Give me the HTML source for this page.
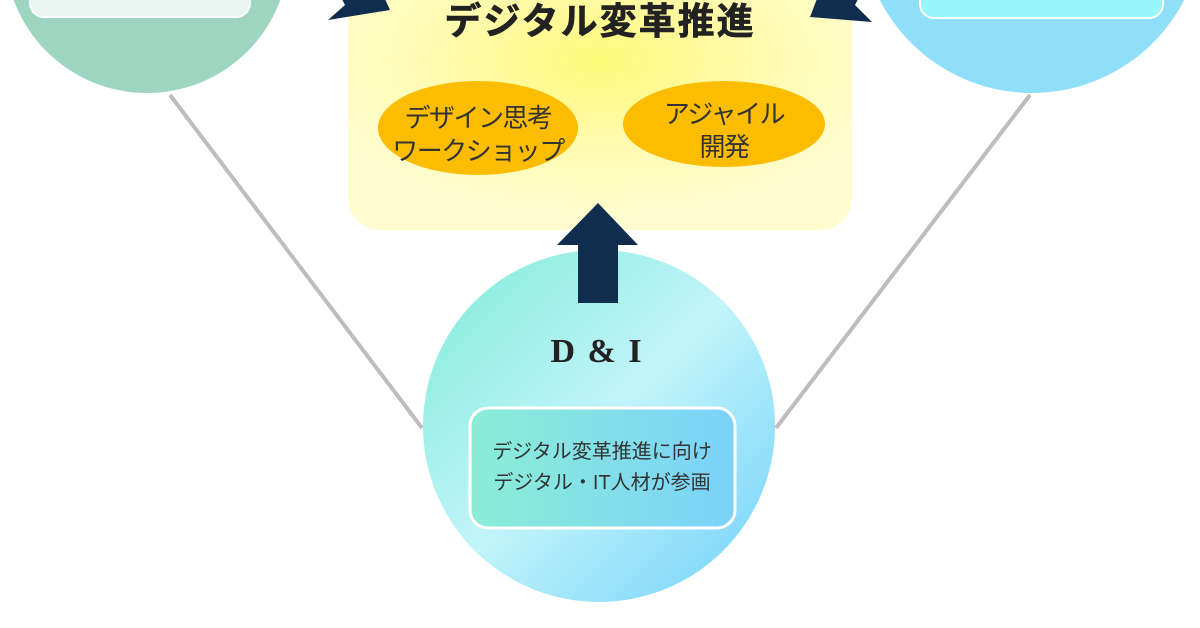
<!DOCTYPE html>
<html><head><meta charset="utf-8"><style>
body{margin:0;width:1200px;height:628px;overflow:hidden;background:#fff;font-family:"Liberation Sans","Noto Sans CJK JP",sans-serif}
</style></head><body>
<svg width="1200" height="628" viewBox="0 0 1200 628" xmlns="http://www.w3.org/2000/svg" style="position:absolute;left:0;top:0">
<defs>
<radialGradient id="yel" cx="0.5" cy="0.35" r="0.6">
<stop offset="0" stop-color="#fff97a"/><stop offset="0.6" stop-color="#fffbb5"/><stop offset="1" stop-color="#fffdd0"/>
</radialGradient>
<linearGradient id="bc" x1="0" y1="0" x2="1" y2="1">
<stop offset="0" stop-color="#7eecd6"/><stop offset="0.5" stop-color="#c2f4fa"/><stop offset="1" stop-color="#6fd0fb"/>
</linearGradient>
<linearGradient id="bb" x1="0" y1="0" x2="1" y2="0">
<stop offset="0" stop-color="#8cedd6"/><stop offset="1" stop-color="#7ad2fa"/>
</linearGradient>
</defs>
<line x1="170" y1="95" x2="422" y2="428" stroke="#bdbdbd" stroke-width="4"/>
<line x1="1030" y1="95" x2="776" y2="428" stroke="#bdbdbd" stroke-width="4"/>
<circle cx="147" cy="-49" r="142" fill="#9dd5c0"/>
<rect x="30" y="-40" width="220" height="57" rx="14" fill="#e8f5f0" stroke="#fff" stroke-width="2"/>
<circle cx="1032" cy="-78" r="171" fill="#8fdff9"/>
<rect x="920" y="-40" width="243" height="58" rx="14" fill="#98f6f8" stroke="#fff" stroke-width="2"/>
<rect x="348" y="-30" width="504" height="260" rx="32" fill="url(#yel)"/>
<polygon points="332,-20 345,5 328,20 390,10 372,-30" fill="#112d4e"/>
<polygon points="868,-20 855,5 872,22 810,17 828,-30" fill="#112d4e"/>
<text x="600" y="34" text-anchor="middle" font-size="37" font-weight="bold" fill="#222" letter-spacing="2" stroke="#222" stroke-width="0.6">デジタル変革推進</text>
<ellipse cx="478" cy="128" rx="100" ry="47" fill="#fcbd00"/>
<ellipse cx="724" cy="124" rx="101" ry="43" fill="#fcbd00"/>
<text font-size="26" fill="#333" text-anchor="middle" letter-spacing="-1.5"><tspan x="478" y="127">デザイン思考</tspan><tspan x="478" y="160">ワークショップ</tspan></text>
<text font-size="26" fill="#333" text-anchor="middle" letter-spacing="-1.5"><tspan x="724" y="123">アジャイル</tspan><tspan x="724" y="156">開発</tspan></text>
<circle cx="599" cy="426" r="176" fill="url(#bc)"/>
<polygon points="578,303 618,303 618,245 638,245 598,203 557,245 578,245" fill="#112d4e"/>
<text x="597" y="362" text-anchor="middle" font-size="34" font-weight="bold" fill="#222" font-family="Liberation Serif,serif" letter-spacing="2">D &amp; I</text>
<rect x="470" y="408" width="265" height="120" rx="18" fill="url(#bb)" stroke="#fff" stroke-width="3"/>
<text font-size="20" fill="#333" text-anchor="middle"><tspan x="602" y="458">デジタル変革推進に向け</tspan><tspan x="602" y="489">デジタル・IT人材が参画</tspan></text>
</svg>
</body></html>
